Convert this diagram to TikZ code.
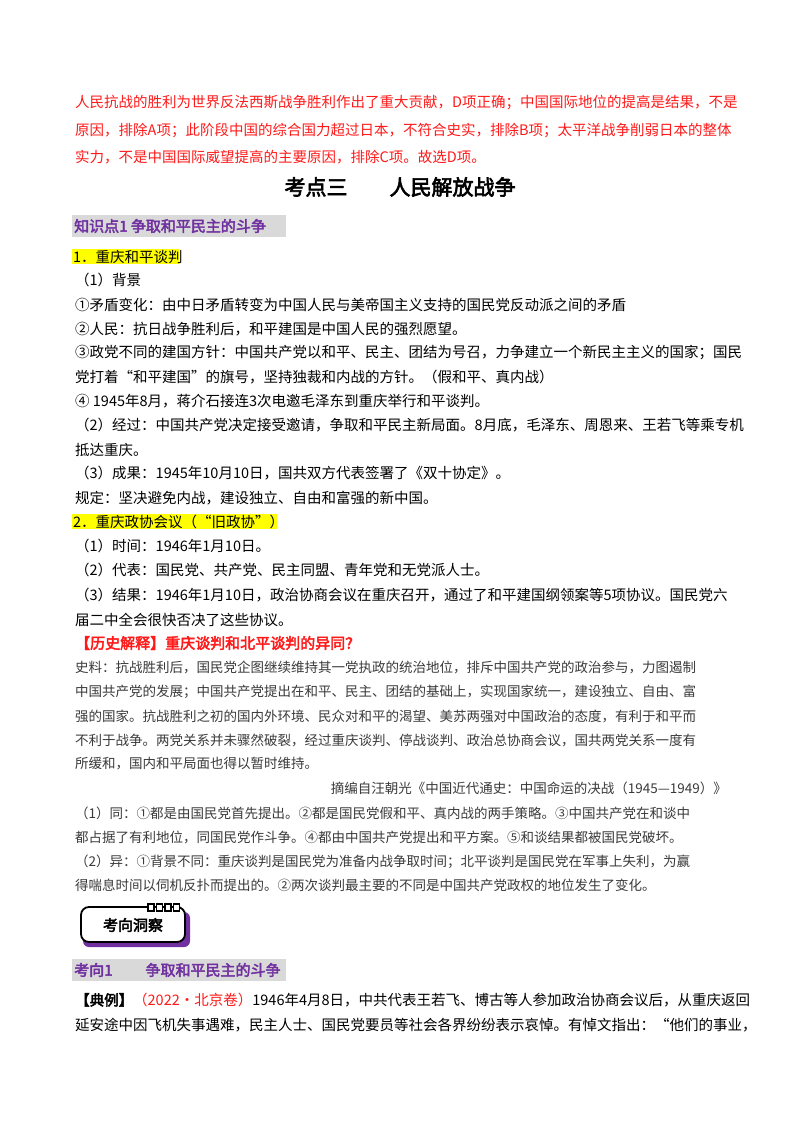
\documentclass[tikz,border=0pt]{standalone}
\usepackage{fontspec}
\setmainfont{Noto Sans CJK SC}[AutoFakeBold=3]
\definecolor{rd}{HTML}{FF1A1A}
\definecolor{pu}{HTML}{7030A0}
\definecolor{gb}{HTML}{D9D9D9}
\definecolor{yl}{HTML}{FFFF00}
\definecolor{dg}{HTML}{3A3A3A}
\begin{document}
\begin{tikzpicture}[x=1pt,y=-1pt,
  t/.style={anchor=west,inner sep=0pt,font=\fontsize{14.5}{16}\selectfont},
  s/.style={t,text=dg,font=\fontsize{13.5}{15}\selectfont},
  r/.style={t,text=rd},
  h/.style={t,font=\fontsize{15}{16}\selectfont\bfseries}]
\useasboundingbox (0,0) rectangle (800,1132);
\fill[white] (0,0) rectangle (800,1132);
\node[r] (r1) at (75,103) {人民抗战的胜利为世界反法西斯战争胜利作出了重大贡献，D项正确；中国国际地位的提高是结果，不是};
\node[r] (r2) at (75,131) {原因，排除A项；此阶段中国的综合国力超过日本，不符合史实，排除B项；太平洋战争削弱日本的整体};
\node[r] (r3) at (75,157) {实力，不是中国国际威望提高的主要原因，排除C项。故选D项。};
\node[inner sep=0pt,font=\fontsize{21}{22}\selectfont\bfseries] (title) at (400,187) {考点三\hspace{2em}人民解放战争};
\fill[gb] (72,215) rectangle (286,237);
\node[h,text=pu] (k1) at (74,226) {知识点1\ 争取和平民主的斗争};
\fill[yl] (72,249) rectangle (179,264);
\node[t] (a1) at (73,257) {1．重庆和平谈判};
\node[t] (l1) at (75,280) {（1）背景};
\node[t] (l2) at (75,305) {①矛盾变化：由中日矛盾转变为中国人民与美帝国主义支持的国民党反动派之间的矛盾};
\node[t] (l3) at (75,329) {②人民：抗日战争胜利后，和平建国是中国人民的强烈愿望。};
\node[t] (l4) at (75,353) {③政党不同的建国方针：中国共产党以和平、民主、团结为号召，力争建立一个新民主主义的国家；国民};
\node[t] (l5) at (75,377) {党打着“和平建国”的旗号，坚持独裁和内战的方针。（假和平、真内战）};
\node[t] (l6) at (75,401) {④ 1945年8月，蒋介石接连3次电邀毛泽东到重庆举行和平谈判。};
\node[t] (l7) at (75,425) {（2）经过：中国共产党决定接受邀请，争取和平民主新局面。8月底，毛泽东、周恩来、王若飞等乘专机};
\node[t] (l8) at (75,450) {抵达重庆。};
\node[t] (l9) at (75,473) {（3）成果：1945年10月10日，国共双方代表签署了《双十协定》。};
\node[t] (l10) at (75,498) {规定：坚决避免内战，建设独立、自由和富强的新中国。};
\fill[yl] (72,514) rectangle (277,529);
\node[t] (a2) at (73,522) {2．重庆政协会议（“旧政协”）};
\node[t] (m1) at (75,546) {（1）时间：1946年1月10日。};
\node[t] (m2) at (75,570) {（2）代表：国民党、共产党、民主同盟、青年党和无党派人士。};
\node[t] (m3) at (75,595) {（3）结果：1946年1月10日，政治协商会议在重庆召开，通过了和平建国纲领案等5项协议。国民党六};
\node[t] (m4) at (75,620) {届二中全会很快否决了这些协议。};
\node[h,text=rd] (hj) at (75,643) {【历史解释】重庆谈判和北平谈判的异同？};
\node[s] (s1) at (75,667) {史料：抗战胜利后，国民党企图继续维持其一党执政的统治地位，排斥中国共产党的政治参与，力图遏制};
\node[s] (s2) at (75,692) {中国共产党的发展；中国共产党提出在和平、民主、团结的基础上，实现国家统一，建设独立、自由、富};
\node[s] (s3) at (75,716) {强的国家。抗战胜利之初的国内外环境、民众对和平的渴望、美苏两强对中国政治的态度，有利于和平而};
\node[s] (s4) at (75,740) {不利于战争。两党关系并未骤然破裂，经过重庆谈判、停战谈判、政治总协商会议，国共两党关系一度有};
\node[s] (s5) at (75,764) {所缓和，国内和平局面也得以暂时维持。};
\node[s,anchor=east] (s6) at (727,788) {摘编自汪朝光《中国近代通史：中国命运的决战（1945—1949）》};
\node[s] (p1) at (75,813) {（1）同：①都是由国民党首先提出。②都是国民党假和平、真内战的两手策略。③中国共产党在和谈中};
\node[s] (p2) at (75,837) {都占据了有利地位，同国民党作斗争。④都由中国共产党提出和平方案。⑤和谈结果都被国民党破坏。};
\node[s] (p3) at (75,862) {（2）异：①背景不同：重庆谈判是国民党为准备内战争取时间；北平谈判是国民党在军事上失利，为赢};
\node[s] (p4) at (75,885) {得喘息时间以伺机反扑而提出的。②两次谈判最主要的不同是中国共产党政权的地位发生了变化。};
% badge
\fill[pu,rounded corners=6pt] (83,912) rectangle (190,947);
\draw[line width=1.8pt,fill=white,rounded corners=8pt] (81,907) rectangle (185,942);
\foreach \i in {0,1,2,3}{\draw[line width=1.3pt,fill=white] (148+\i*8.5,904) rectangle (154+\i*8.5,911);}
\node[inner sep=0pt,font=\fontsize{15}{16}\selectfont\bfseries] (bd) at (133,925) {考向洞察};
\fill[gb] (72,959) rectangle (286,981);
\node[h,text=pu] (k2) at (74,970) {考向1\hspace{2.2em}争取和平民主的斗争};
\node[t] (e1) at (75,1000) {\textbf{【典例】}\textcolor{rd}{（2022·北京卷）}1946年4月8日，中共代表王若飞、博古等人参加政治协商会议后，从重庆返回};
\node[t] (e2) at (75,1025) {延安途中因飞机失事遇难，民主人士、国民党要员等社会各界纷纷表示哀悼。有悼文指出：“他们的事业，};
\end{tikzpicture}
\end{document}
